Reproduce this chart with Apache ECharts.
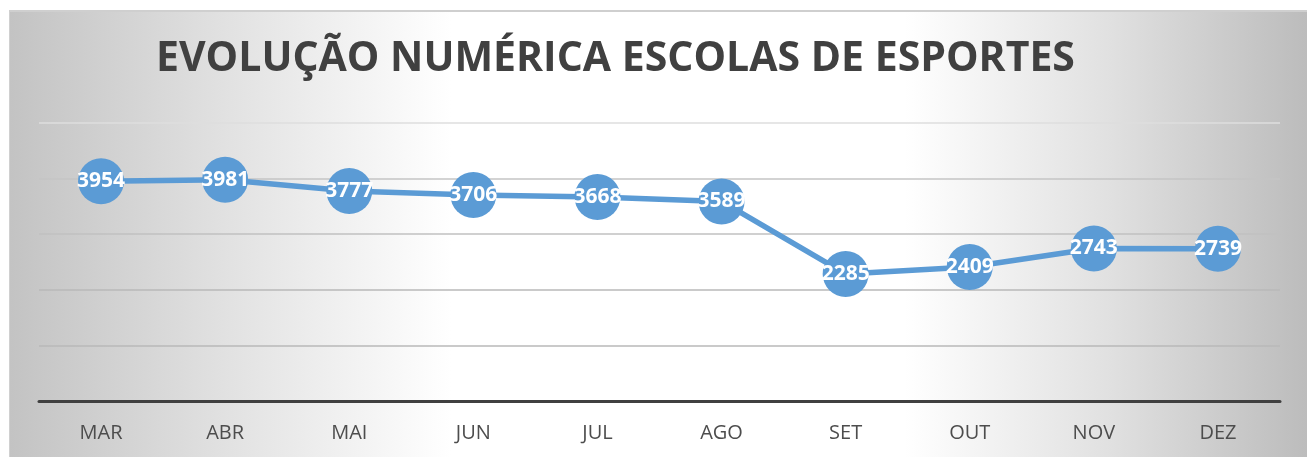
<!DOCTYPE html>
<html>
<head>
<meta charset="utf-8">
<script src="https://cdn.jsdelivr.net/npm/echarts@6/dist/echarts.min.js"></script>
<style>
  html, body { margin: 0; padding: 0; background: #ffffff; }
  .chart-box {
    position: absolute;
    left: 9px;
    top: 10px;
    width: 1298px;
    height: 447px;
    box-sizing: border-box;
    border-top: 2px solid #cfcfcf;
    border-left: 1px solid #d0d0d0;
    background: linear-gradient(to right, #c3c3c3 0%, #e2e2e2 17%, #ffffff 34%, #ffffff 69%, #e0e0e0 85%, #bcbcbc 100%);
  }
  #chart { width: 100%; height: 100%; }
</style>
</head>
<body>
<div class="chart-box"><div id="chart"></div></div>
<script>
  // dados
  const months = ['MAR', 'ABR', 'MAI', 'JUN', 'JUL', 'AGO', 'SET', 'OUT', 'NOV', 'DEZ']
  const alunos = [3954, 3981, 3777, 3706, 3668, 3589, 2285, 2409, 2743, 2739]
  const chartTitle = 'EVOLUÇÃO NUMÉRICA ESCOLAS DE ESPORTES'

  const blue = '#5B9BD5'
  const myChart = echarts.init(document.getElementById('chart'))

  const options = {
    backgroundColor: 'transparent',
    animation: false,
    title: {
      text: chartTitle,
      left: 141,
      top: 22,
      textStyle: {
        fontFamily: 'Open Sans',
        fontWeight: 'bold',
        fontSize: 41,
        color: '#404040'
      }
    },
    grid: {
      left: 29,
      right: 27,
      top: 111,
      bottom: 56,
      containLabel: false
    },
    xAxis: {
      type: 'category',
      data: months,
      boundaryGap: true,
      axisLine: {
        lineStyle: { color: '#404040', width: 3 }
      },
      axisTick: { show: false },
      axisLabel: {
        margin: 22,
        fontFamily: 'Open Sans',
        fontSize: 20,
        color: '#4d4d4d'
      }
    },
    yAxis: {
      type: 'value',
      min: 0,
      max: 5000,
      interval: 1000,
      axisLabel: { show: false },
      axisLine: { show: false },
      axisTick: { show: false },
      splitLine: {
        lineStyle: {
          width: 1.5,
          color: ['#bdbdbd', '#b8b8b8', '#b8b8b8', '#c0c0c0', '#c4c4c4', '#dedede']
        }
      }
    },
    series: [
      {
        type: 'line',
        data: alunos,
        symbol: 'circle',
        symbolSize: 46,
        lineStyle: { color: blue, width: 5.5 },
        itemStyle: { color: blue },
        label: {
          show: true,
          position: 'inside',
          fontFamily: 'Open Sans',
          fontWeight: 'bold',
          fontSize: 21,
          color: '#ffffff'
        }
      }
    ]
  }
  myChart.setOption(options)
  window.addEventListener('resize', () => myChart.resize())
</script>
</body>
</html>
